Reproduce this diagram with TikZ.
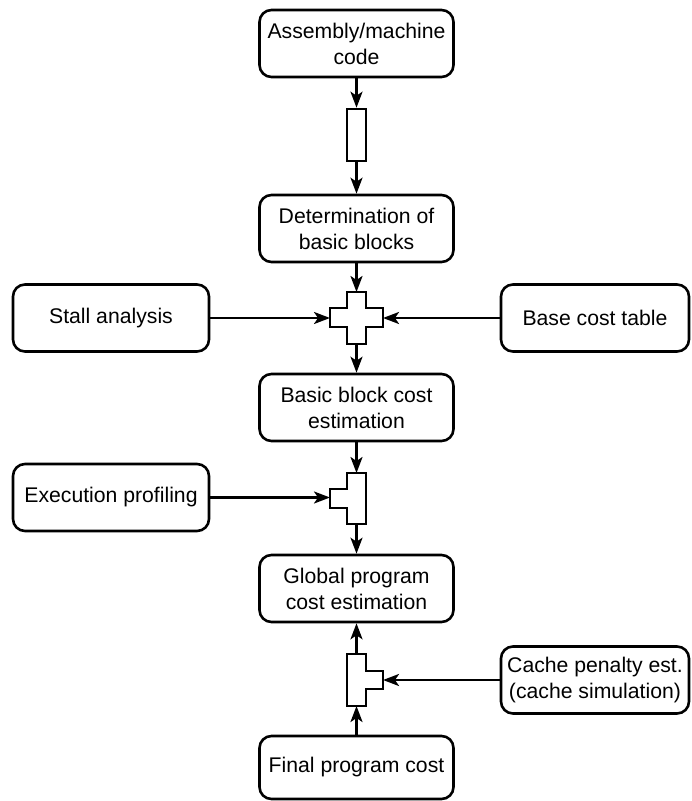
\documentclass[tikz,border=0pt]{standalone}
\usepackage{fontspec}
\setmainfont{Liberation Sans}
\usetikzlibrary{arrows.meta}
\tikzset{
  box/.style={draw, line width=1.3pt, rounded corners=6pt, align=center,
    minimum width=97pt, minimum height=33.5pt, inner sep=2pt,
    font=\fontsize{10.6}{13}\selectfont},
  sidebox/.style={box, minimum width=94pt},
  junction/.style={draw, line width=1.3pt, fill=white},
  flow/.style={line width=1.2pt, -{Stealth[length=8pt,width=6pt,inset=2pt]}}
}

\begin{document}
\begin{tikzpicture}[x=0.5pt,y=-0.5pt]
\useasboundingbox (0,0) rectangle (691,801);
% main column
\node[box] (asm) at (356.5,43.5) {Assembly/machine\\code};
\node[junction, rectangle, minimum width=9.5pt, minimum height=26pt, inner sep=0pt] (pipe) at (356.5,135) {};
\node[box] (det) at (356.5,228.5) {Determination of\\basic blocks};
\node[box] (bbc) at (356.5,407.5) {Basic block cost\\estimation};
\node[box] (gpc) at (356.5,588.5) {Global program\\cost estimation};
\node[box, minimum height=31.5pt] (fin) at (356.5,767.5) {Final program cost};
% side inputs
\node[box, minimum width=98pt] (stall) at (111,318) {Stall analysis};
\node[sidebox] (base) at (595,318) {Base cost table};
\node[box, minimum width=98pt] (exec) at (111,497.5) {Execution profiling};
\node[sidebox] (cache) at (595,680) {Cache penalty est.\\(cache simulation)};
% cross junction
\draw[junction] (347,292) -- (366,292) -- (366,308) -- (383,308) -- (383,327) -- (366,327)
  -- (366,344) -- (347,344) -- (347,327) -- (330,327) -- (330,308) -- (347,308) -- cycle;
\coordinate (crossN) at (356.5,292);
\coordinate (crossS) at (356.5,344);
\coordinate (crossW) at (330,318);
\coordinate (crossE) at (383,318);
% T junction, input from the left
\draw[junction] (347,473) -- (366,473) -- (366,524) -- (347,524) -- (347,508) -- (330,508)
  -- (330,489) -- (347,489) -- cycle;
\coordinate (t1N) at (356.5,473);
\coordinate (t1S) at (356.5,524);
\coordinate (t1W) at (330,497.5);
% T junction, input from the right
\draw[junction] (347,654) -- (366,654) -- (366,671) -- (383,671) -- (383,689) -- (366,689)
  -- (366,706) -- (347,706) -- cycle;
\coordinate (t2N) at (356.5,654);
\coordinate (t2S) at (356.5,706);
\coordinate (t2E) at (383,680);
% connectors
\draw[flow] (asm) -- (pipe);
\draw[flow] (pipe) -- (det);
\draw[flow] (det) -- (crossN);
\draw[flow] (stall) -- (crossW);
\draw[flow] (base) -- (crossE);
\draw[flow] (crossS) -- (bbc);
\draw[flow] (bbc) -- (t1N);
\draw[flow] (exec) -- (t1W);
\draw[flow] (t1S) -- (gpc);
\draw[flow] (t2N) -- (gpc);
\draw[flow] (cache) -- (t2E);
\draw[flow] (fin) -- (t2S);
\end{tikzpicture}
\end{document}
